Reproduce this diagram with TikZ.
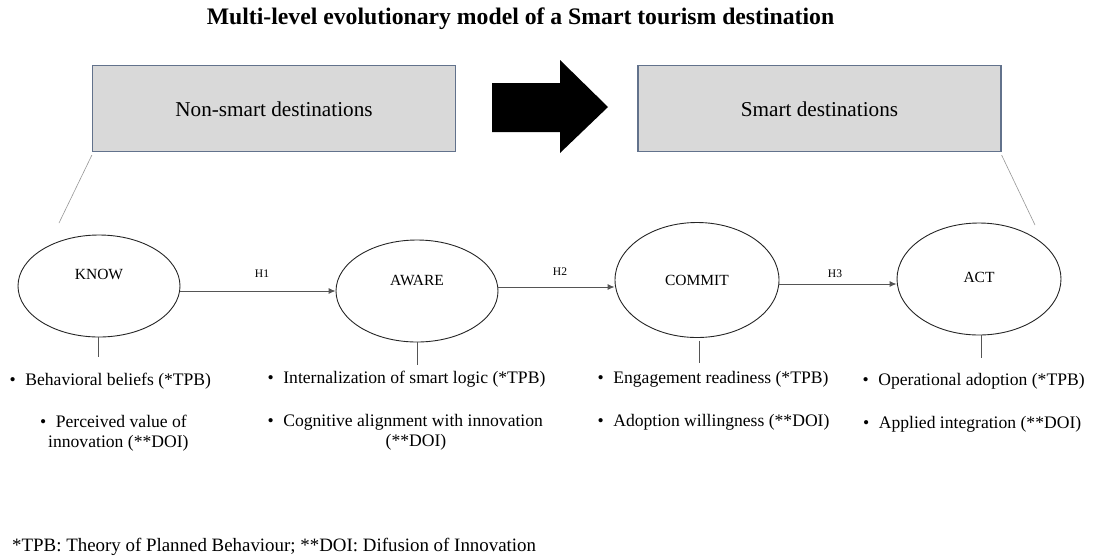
\documentclass[tikz,border=0pt]{standalone}
\usepackage{fontspec}
\setmainfont{Liberation Serif}
\usetikzlibrary{arrows.meta,shapes.geometric}
\definecolor{boxfill}{RGB}{217,217,217}
\definecolor{boxline}{RGB}{98,114,140}
\definecolor{conn}{RGB}{85,85,85}
\definecolor{thin}{RGB}{150,150,150}
\tikzset{
  destbox/.style={draw=boxline,line width=1.3pt,fill=boxfill,minimum width=363pt,minimum height=86pt,inner sep=0pt},
  boxtxt/.style={font=\fontsize{21.2}{24}\selectfont,anchor=base,inner sep=0pt},
  ell/.style={ellipse,draw=black!85,line width=0.9pt,inner sep=0pt},
  elltxt/.style={font=\fontsize{15.5}{18}\selectfont,anchor=base,inner sep=0pt},
  htxt/.style={font=\fontsize{11.6}{14}\selectfont,anchor=base,inner sep=0pt},
  btxt/.style={font=\fontsize{17.6}{17}\selectfont,anchor=base west,inner sep=0pt},
  btxtc/.style={font=\fontsize{17.6}{17}\selectfont,anchor=base,inner sep=0pt},
  arr/.style={draw=conn,line width=0.9pt,-{Latex[length=7pt,width=6pt]}},
  stem/.style={draw=conn,line width=0.7pt},
  diag/.style={draw=thin,line width=0.6pt},
}
\newcommand{\bul}{\textbullet\hspace{9.5pt}}
\begin{document}
\begin{tikzpicture}[x=1pt,y=-1pt]
\useasboundingbox (0,0) rectangle (1094,558);
% title
\node[font=\fontsize{23.7}{28}\selectfont\bfseries,anchor=base,inner sep=0pt] (title) at (520.5,24) {Multi-level evolutionary model of a Smart tourism destination};
% boxes
\node[destbox] (lbox) at (274,108.5) {};
\node[boxtxt] (ltxt) at (274,116) {Non-smart destinations};
\node[destbox] (rbox) at (819.5,108.5) {};
\node[boxtxt] (rtxt) at (819.5,116) {Smart destinations};
% big arrow
\fill[black] (492,83) -- (560,83) -- (560,60) -- (608,107) -- (560,153) -- (560,132) -- (492,132) -- cycle;
% ellipses
\node[ell,minimum width=162pt,minimum height=102pt] (know) at (99,286) {};
\node[elltxt] (knowt) at (99,279) {KNOW};
\node[ell,minimum width=162pt,minimum height=102pt] (aware) at (417,291) {};
\node[elltxt] (awaret) at (417,285) {AWARE};
\node[ell,minimum width=164pt,minimum height=115pt] (commit) at (697,280) {};
\node[elltxt] (committ) at (697,285) {COMMIT};
\node[ell,minimum width=164pt,minimum height=112pt] (act) at (979,279) {};
\node[elltxt] (actt) at (979,282) {ACT};
% diagonal lines
\coordinate (dl) at (59,223);
\coordinate (dr) at (1035,225);
\draw[diag] ([yshift=-3pt]lbox.south west) -- (dl);
\draw[diag] ([yshift=-3pt]rbox.south east) -- (dr);
% hypothesis arrows
\draw[arr] (aware.west -| know.east) -- (aware.west);
\node[htxt] (h1) at (262,277) {H1};
\draw[arr] ([yshift=4pt]aware.east) -- ([yshift=-7pt]commit.west);
\node[htxt] (h2) at (560,275) {H2};
\draw[arr] ([yshift=-4pt]commit.east) -- ([yshift=-5pt]act.west);
\node[htxt] (h3) at (835,277) {H3};
% stems
\coordinate (sk) at (98,357);
\coordinate (sa) at (417,365);
\coordinate (sc) at (699,363);
\coordinate (st) at (981,358);
\draw[stem] (know.south -| sk) -- (sk);
\draw[stem] (aware.south -| sa) -- (sa);
\draw[stem] ([yshift=-3pt]commit.south -| sc) -- (sc);
\draw[stem] (act.south -| st) -- (st);
% bullet texts
\node[btxt] (k1) at (9.5,385) {\bul Behavioral beliefs (*TPB)};
\node[btxt] (k2) at (40,427) {\bul Perceived value of};
\node[btxt] (k3) at (48,447) {innovation (**DOI)};
\node[btxt] (a1) at (267.5,383) {\bul Internalization of smart logic (*TPB)};
\node[btxt] (a2) at (267.5,426) {\bul Cognitive alignment with innovation};
\node[btxtc] (a3) at (416,446) {(**DOI)};
\node[btxt] (c1) at (597.5,383) {\bul Engagement readiness (*TPB)};
\node[btxt] (c2) at (597.5,426) {\bul Adoption willingness (**DOI)};
\node[btxt] (t1) at (862.5,385) {\bul Operational adoption (*TPB)};
\node[btxt] (t2) at (863,428) {\bul Applied integration (**DOI)};
% footnote
\node[font=\fontsize{18.9}{22}\selectfont,anchor=base west,inner sep=0pt] (foot) at (12,551) {*TPB: Theory of Planned Behaviour; **DOI: Difusion of Innovation};
\end{tikzpicture}
\end{document}
